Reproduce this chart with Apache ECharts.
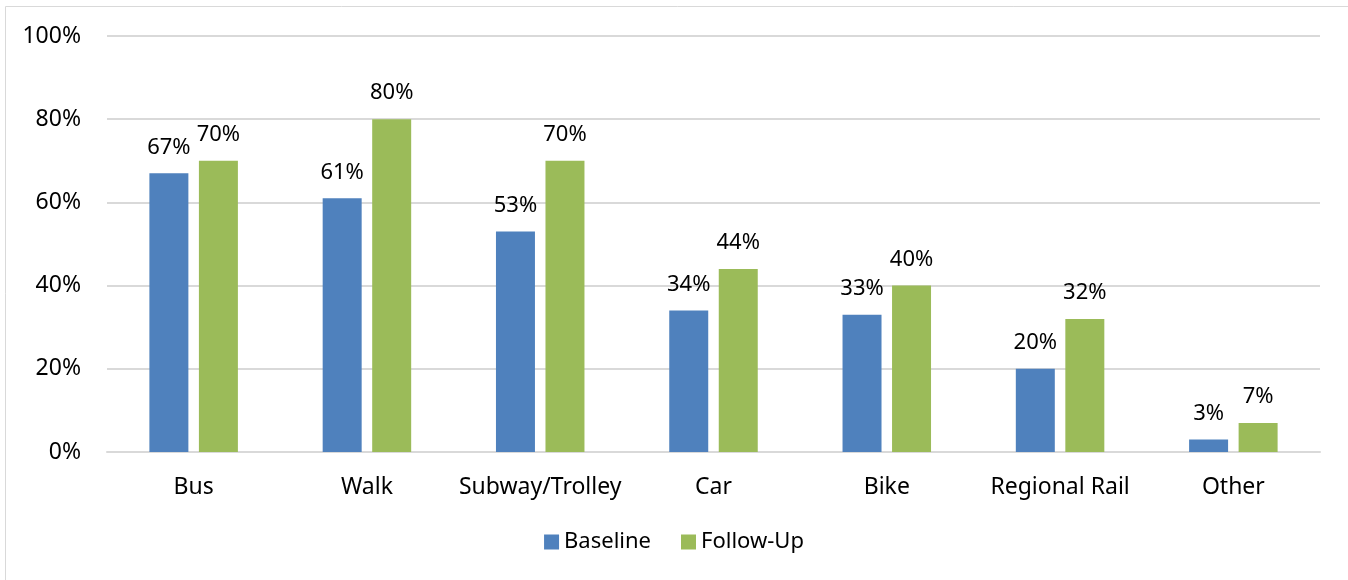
<!DOCTYPE html>
<html>
<head>
<meta charset="utf-8">
<script src="https://cdn.jsdelivr.net/npm/echarts@6/dist/echarts.min.js"></script>
<style>
  html, body { margin: 0; padding: 0; background: #fff; }
  #chart { width: 1348px; height: 580px; }
</style>
</head>
<body>
<div id="chart"></div>
<script>
// Travel mode share, baseline vs follow-up survey
const categories = ['Bus', 'Walk', 'Subway/Trolley', 'Car', 'Bike', 'Regional Rail', 'Other'];
const baseline = [67, 61, 53, 34, 33, 20, 3];
const followUp = [70, 80, 70, 44, 40, 32, 7];
const yTicks = [0, 20, 40, 60, 80, 100];

const FONT = '"Noto Sans", "Open Sans", sans-serif';
const FS = 23;
const chart = echarts.init(document.getElementById('chart'));

const labelStyle = {
  show: true,
  position: 'top',
  distance: 15,
  formatter: p => p.value + '%',
  color: '#000',
  fontSize: 22,
  fontFamily: FONT
};

chart.setOption({
  animation: false,
  graphic: [{
    type: 'rect',
    shape: { x: 5.5, y: 6.5, width: 1360, height: 600 },
    style: { fill: 'none', stroke: '#d9d9d9', lineWidth: 1 },
    silent: true
  }],
  grid: { left: 107, right: 28, top: 36, bottom: 128 },
  legend: {
    bottom: 22,
    left: 'center',
    itemWidth: 15,
    itemHeight: 15,
    itemGap: 30,
    icon: 'rect',
    textStyle: { color: '#000', fontSize: 22, fontFamily: FONT },
    data: ['Baseline', 'Follow-Up']
  },
  xAxis: {
    type: 'category',
    data: categories,
    axisTick: { show: false },
    axisLine: { lineStyle: { color: '#d9d9d9', width: 2 } },
    axisLabel: { color: '#000', fontSize: FS, fontFamily: FONT, margin: 24, interval: 0 }
  },
  yAxis: {
    type: 'value',
    min: yTicks[0],
    max: yTicks[yTicks.length - 1],
    interval: 20,
    axisLine: { show: false },
    axisTick: { show: false },
    splitLine: { lineStyle: { color: '#d9d9d9', width: 2 } },
    axisLabel: {
      color: '#000', fontSize: FS, fontFamily: FONT, margin: 26,
      formatter: v => v + '%'
    }
  },
  series: [
    {
      name: 'Baseline',
      type: 'bar',
      data: baseline,
      barWidth: '22.5%',
      barGap: '27%',
      itemStyle: { color: '#4f81bd' },
      label: labelStyle
    },
    {
      name: 'Follow-Up',
      type: 'bar',
      data: followUp,
      barWidth: '22.5%',
      itemStyle: { color: '#9bbb59' },
      label: labelStyle
    }
  ]
});
</script>
</body>
</html>
